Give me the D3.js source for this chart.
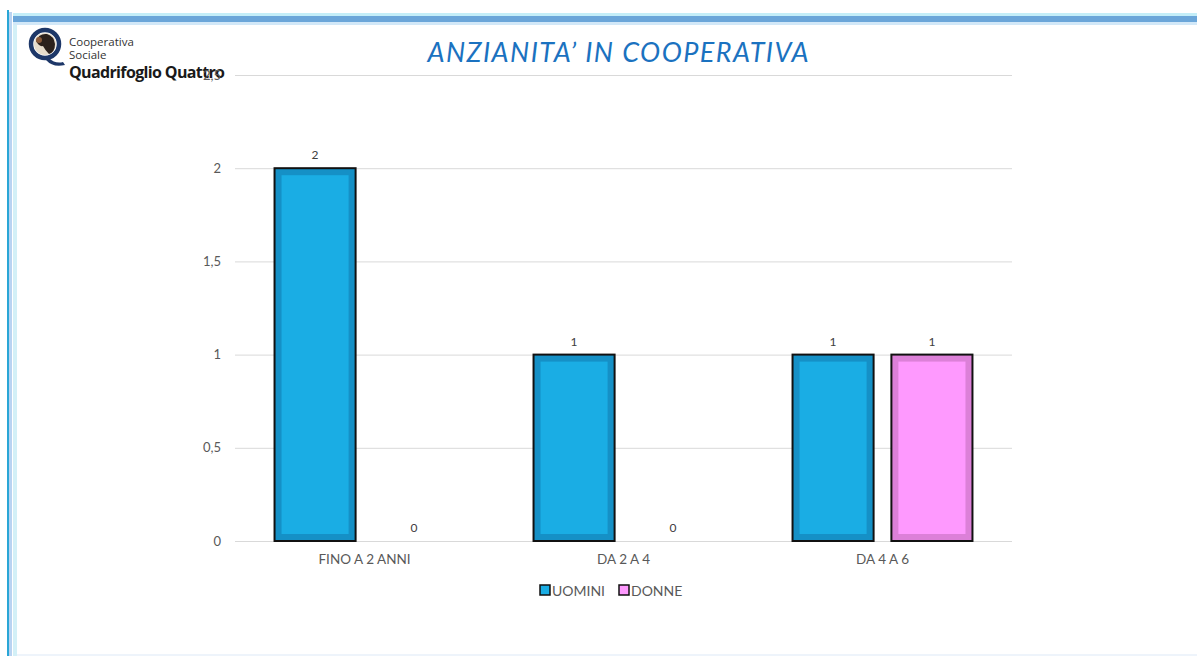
<!DOCTYPE html>
<html>
<head>
<meta charset="utf-8">
<script src="https://cdn.jsdelivr.net/npm/d3@7"></script>
<style>
  body { margin: 0; background: #fff; }
  svg { display: block; font-family: Lato, "Open Sans", sans-serif; }
</style>
</head>
<body>
<svg id="vis" width="1197" height="656"></svg>
<script>
// chart data
var categories = ["FINO A 2 ANNI", "DA 2 A 4", "DA 4 A 6"];
var seriesNames = ["UOMINI", "DONNE"];
var uomini = [2, 1, 1];
var donne = [0, 0, 1];
var yTicks = [0, 0.5, 1, 1.5, 2, 2.5];

var fills = { "UOMINI": "#1aade4", "DONNE": "#fe99fe" };
var edges = { "UOMINI": "#1590c6", "DONNE": "#dc80d8" };

var svg = d3.select("#vis");

// slide frame
svg.append("rect").attr("x", 7).attr("y", 10).attr("width", 2).attr("height", 646).attr("fill", "#29a6d6");
svg.append("rect").attr("x", 9).attr("y", 12).attr("width", 3).attr("height", 644).attr("fill", "#b9d3f1");
svg.append("rect").attr("x", 13).attr("y", 14).attr("width", 4).attr("height", 642).attr("fill", "#d3f0f7");
svg.append("rect").attr("x", 13).attr("y", 13).attr("width", 1184).attr("height", 3).attr("fill", "#c4eef8");
svg.append("rect").attr("x", 13).attr("y", 16).attr("width", 1184).attr("height", 6).attr("fill", "#6ba6d9");
svg.append("rect").attr("x", 13).attr("y", 22).attr("width", 1184).attr("height", 3).attr("fill", "#d2e8f8");
svg.append("rect").attr("x", 17).attr("y", 654).attr("width", 1180).attr("height", 2).attr("fill", "#eef4fb");

// logo
var logo = svg.append("g").attr("transform", "translate(45,44)");
logo.append("path")
  .attr("d", "M4,14 Q10,20 18,18 L20,21 Q8,24 1,16 Z")
  .attr("fill", "#1d3768");
logo.append("circle").attr("r", 14).attr("fill", "none").attr("stroke", "#1d3768").attr("stroke-width", 4.5);
logo.append("circle").attr("r", 11).attr("fill", "#e6dccb");
logo.append("path")
  .attr("d", "M-9,-3 Q-6,-11 2,-10 Q9,-8 10,0 Q10,8 4,10 Q0,6 -2,2 Q-6,3 -9,-3 Z")
  .attr("fill", "#2b211c");
logo.append("circle").attr("cx", -6).attr("cy", -4).attr("r", 3).attr("fill", "#8a5a3a");

svg.append("text").attr("x", 69).attr("y", 46).attr("font-size", 11.5).attr("fill", "#333")
  .attr("font-family", "'Open Sans', sans-serif").text("Cooperativa");
svg.append("text").attr("x", 69).attr("y", 59).attr("font-size", 11.5).attr("fill", "#333")
  .attr("font-family", "'Open Sans', sans-serif").text("Sociale");
svg.append("text").attr("x", 69).attr("y", 78).attr("font-size", 16).attr("font-weight", "bold").attr("fill", "#1a1a1a")
  .attr("font-family", "'Open Sans', sans-serif").attr("textLength", 156).text("Quadrifoglio Quattro");

// title
svg.append("text")
  .attr("x", 618).attr("y", 62)
  .attr("text-anchor", "middle")
  .attr("font-size", 27)
  .attr("font-style", "italic")
  .attr("fill", "#1b72c0")
  .attr("textLength", 381)
  .text("ANZIANITA\u2019 IN COOPERATIVA");

var margin = { top: 75, left: 235, right: 185, bottom: 115 };
var plotWidth = 1197 - margin.left - margin.right;
var plotHeight = 656 - margin.top - margin.bottom;

var plot = svg.append("g").attr("transform", "translate(" + margin.left + "," + margin.top + ")");

var y = d3.scaleLinear().domain([0, 2.5]).range([plotHeight, 0]);
var x0 = d3.scaleBand().domain(categories).range([0, plotWidth]);
var x1 = d3.scaleBand().domain(seriesNames).range([0, x0.bandwidth()])
  .paddingInner(0.18).paddingOuter(0.4);

var fmt = function(d) { return String(d).replace(".", ","); };

var yAxis = d3.axisLeft(y).tickValues(yTicks).tickSize(-plotWidth).tickPadding(14).tickFormat(fmt);
var yGroup = plot.append("g").attr("id", "y-axis").call(yAxis);
yGroup.select(".domain").remove();
yGroup.selectAll(".tick line").attr("stroke", "#d9d9d9");
yGroup.selectAll(".tick text").attr("fill", "#595959").attr("font-size", 13).attr("font-family", "Lato, sans-serif");

var xAxis = d3.axisBottom(x0).tickSize(0).tickPadding(13);
var xGroup = plot.append("g").attr("id", "x-axis").attr("transform", "translate(0," + plotHeight + ")").call(xAxis);
xGroup.select(".domain").remove();
xGroup.selectAll(".tick text").attr("fill", "#595959").attr("font-size", 13.5).attr("font-family", "Lato, sans-serif");

var rows = categories.map(function(c, i) {
  return { cat: c, vals: [{ s: "UOMINI", v: uomini[i] }, { s: "DONNE", v: donne[i] }] };
});

var groups = plot.selectAll("g.cat").data(rows).enter().append("g")
  .attr("class", "cat")
  .attr("transform", function(d) { return "translate(" + x0(d.cat) + ",0)"; });

var bars = groups.selectAll("g.bar").data(function(d) { return d.vals; }).enter().append("g").attr("class", "bar");

bars.filter(function(d) { return d.v > 0; }).append("rect")
  .attr("x", function(d) { return x1(d.s); })
  .attr("y", function(d) { return y(d.v); })
  .attr("width", x1.bandwidth())
  .attr("height", function(d) { return y(0) - y(d.v); })
  .attr("fill", function(d) { return edges[d.s]; })
  .attr("stroke", "#111")
  .attr("stroke-width", 2);

bars.filter(function(d) { return d.v > 0; }).append("rect")
  .attr("x", function(d) { return x1(d.s) + 7; })
  .attr("y", function(d) { return y(d.v) + 7; })
  .attr("width", x1.bandwidth() - 14)
  .attr("height", function(d) { return y(0) - y(d.v) - 14; })
  .attr("fill", function(d) { return fills[d.s]; });

bars.append("text")
  .attr("x", function(d) { return x1(d.s) + x1.bandwidth() / 2; })
  .attr("y", function(d) { return y(d.v) - 9; })
  .attr("text-anchor", "middle")
  .attr("font-size", 12)
  .attr("fill", "#404040")
  .text(function(d) { return d.v; });

// legend
var legend = svg.append("g").attr("transform", "translate(540,585)");
var item = legend.selectAll("g").data(seriesNames).enter().append("g")
  .attr("transform", function(d, i) { return "translate(" + (i * 79) + ",0)"; });
item.append("rect").attr("width", 10).attr("height", 10)
  .attr("fill", function(d) { return fills[d]; })
  .attr("stroke", "#111").attr("stroke-width", 1.5);
item.append("text").attr("x", 12).attr("y", 11)
  .attr("font-size", 14).attr("fill", "#595959")
  .text(function(d) { return d; });
</script>
</body>
</html>
